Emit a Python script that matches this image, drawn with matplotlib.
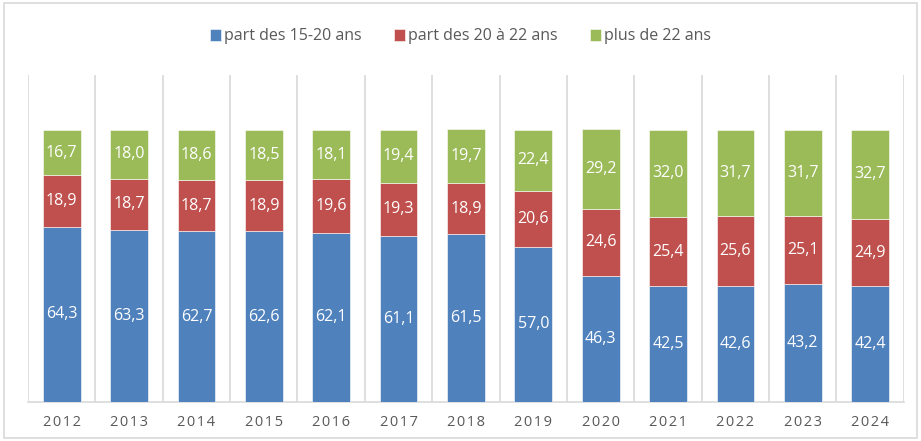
import matplotlib.pyplot as plt
from matplotlib.patches import Rectangle

years = ["2012", "2013", "2014", "2015", "2016", "2017", "2018",
         "2019", "2020", "2021", "2022", "2023", "2024"]
part_15_20 = [64.3, 63.3, 62.7, 62.6, 62.1, 61.1, 61.5, 57.0, 46.3, 42.5, 42.6, 43.2, 42.4]
part_20_22 = [18.9, 18.7, 18.7, 18.9, 19.6, 19.3, 18.9, 20.6, 24.6, 25.4, 25.6, 25.1, 24.9]
plus_22 = [16.7, 18.0, 18.6, 18.5, 18.1, 19.4, 19.7, 22.4, 29.2, 32.0, 31.7, 31.7, 32.7]

series = [
    ("part des 15-20 ans", part_15_20, "#4F81BD"),
    ("part des 20 à 22 ans", part_20_22, "#C0504D"),
    ("plus de 22 ans", plus_22, "#9BBB59"),
]


def fmt(v):
    return f"{v:.1f}".replace(".", ",")


def main():
    plt.rcParams["font.family"] = ["Open Sans", "DejaVu Sans"]
    fig = plt.figure(figsize=(9.21, 4.41), dpi=100)
    fig.patches.append(Rectangle((0.004, 0.006), 0.992, 0.988, transform=fig.transFigure,
                                 fill=False, edgecolor="#D9D9D9", linewidth=1.2))
    ax = fig.add_axes([0.0304, 0.0884, 0.951, 0.7415])

    x = list(range(len(years)))
    bottom = [0.0] * len(years)
    for name, vals, color in series:
        bars = ax.bar(x, vals, width=0.56, bottom=bottom, color=color, label=name,
                      edgecolor="white", linewidth=0.4, zorder=3)
        for b, v, y0 in zip(bars, vals, bottom):
            ax.text(b.get_x() + b.get_width() / 2, y0 + v / 2, fmt(v),
                    ha="center", va="center", color="white", fontsize=11.5, zorder=4)
        bottom = [a + b for a, b in zip(bottom, vals)]

    ax.set_xlim(-0.5, len(years) - 0.5)
    ax.set_ylim(0, 120)
    for i in range(len(years) + 1):
        ax.axvline(i - 0.5, color="#D9D9D9", linewidth=1.2, zorder=1)
    ax.set_xticks(x)
    # Excel-style letter spacing on the year labels
    ax.set_xticklabels(["\u200a".join(y) for y in years], color="#595959", fontsize=10.5)
    ax.tick_params(axis="x", length=0, pad=9)
    ax.set_yticks([])
    for s in ["top", "right", "left"]:
        ax.spines[s].set_visible(False)
    ax.spines["bottom"].set_color("#D9D9D9")
    ax.spines["bottom"].set_linewidth(1.2)

    fig.legend(loc="center", bbox_to_anchor=(0.5, 0.918), ncol=3, frameon=False,
               fontsize=11.5, handlelength=0.7, handleheight=0.8, handletextpad=0.2,
               columnspacing=2.0, labelcolor="#595959")
    fig.savefig("out.png", dpi=100)


if __name__ == "__main__":
    main()
